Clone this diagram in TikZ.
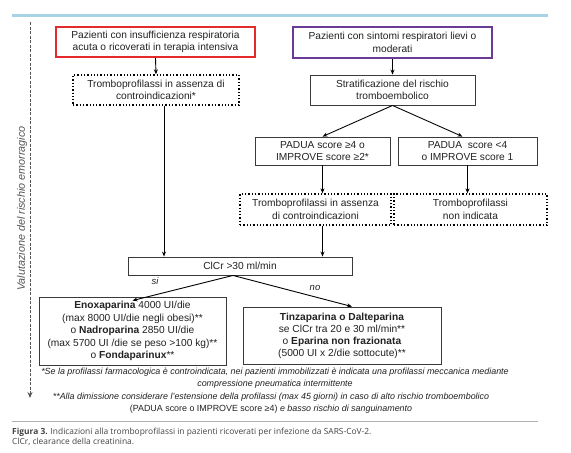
\documentclass[tikz,border=0pt]{standalone}
\usepackage{fontspec}
\setmainfont{Liberation Sans}
\newfontfamily\capfont{Open Sans}
\usetikzlibrary{arrows.meta,calc}
\definecolor{redb}{HTML}{E52A2E}
\definecolor{purb}{HTML}{6B3A96}
\definecolor{boxg}{HTML}{3A3A3A}
\definecolor{topblue}{HTML}{A7D3E6}
\definecolor{txt}{HTML}{222222}
\definecolor{sepg}{HTML}{B0B0B0}
\definecolor{dashg}{HTML}{555555}
\definecolor{capg}{HTML}{444444}
\begin{document}
\begin{tikzpicture}[x=1pt,y=-1pt,
  box/.style={draw=boxg,line width=0.9pt,align=center,inner sep=0pt,text=txt,font=\fontsize{10.2}{12.5}\selectfont},
  dotbox/.style={box,draw=black,line width=1.3pt,dotted},
  arr/.style={line width=0.9pt,-{Stealth[length=5pt,width=4pt]}},
  lab/.style={font=\fontsize{9.5}{11}\selectfont\itshape,text=txt,inner sep=0pt},
  foot/.style={font=\fontsize{8.9}{11.5}\selectfont\itshape,text=txt,align=center,inner sep=0pt},
]
\useasboundingbox (0,0) rectangle (571,453);
\fill[white] (0,0) rectangle (571,453);
% top rule
\coordinate (tl) at (12,15); \coordinate (tr) at (548,15);
\draw[topblue,line width=3pt] (tl) -- (tr);
% bleeding risk arrow
\coordinate (vt) at (30,22); \coordinate (vb) at (30,398);
\draw[dashg,line width=1pt,dash pattern=on 3pt off 1.5pt,-{Stealth[length=6pt,width=5pt]}] (vt) -- (vb);
\node[rotate=90,font=\fontsize{10.8}{12}\selectfont\itshape,text=dashg,inner sep=0pt] (val) at (22,208.5) {Valutazione del rischio emorragico};
% boxes
\node[box,draw=redb,line width=1.8pt,minimum width=199,minimum height=30] (red) at (155.5,42) {Pazienti con insufficienza respiratoria\\acuta o ricoverati in terapia intensiva};
\node[dotbox,minimum width=166,minimum height=30] (dot1) at (156,90) {Tromboprofilassi in assenza di\\controindicazioni*};
\node[box,draw=purb,line width=1.8pt,minimum width=199,minimum height=31] (pur) at (392.5,42.5) {Pazienti con sintomi respiratori lievi o\\moderati};
\node[box,minimum width=165,minimum height=30] (strat) at (392.5,90) {Stratificazione del rischio\\tromboembolico};
\node[box,minimum width=135,minimum height=28] (padL) at (322.5,151) {PADUA score ≥4 o\\IMPROVE score ≥2*};
\node[box,minimum width=139,minimum height=28] (padR) at (467.5,151) {PADUA\ \ score <4\\o IMPROVE score 1};
\node[dotbox,minimum width=151,minimum height=31] (dot2) at (315.5,209.5) {Tromboprofilassi in assenza\\di controindicazioni};
\node[dotbox,minimum width=153,minimum height=31] (dot3) at (470.5,209.5) {Tromboprofilassi\\non indicata};
\node[box,minimum width=224,minimum height=18] (clcr) at (240,266) {ClCr >30 ml/min};
\node[box,minimum width=187,minimum height=68] (drugL) at (132.5,331) {\textbf{Enoxaparina} 4000 UI/die\\(max 8000 UI/die negli obesi)**\\o \textbf{Nadroparina} 2850 UI/die\\(max 5700 UI /die se peso >100 kg)**\\o \textbf{Fondaparinux}**};
\node[box,font=\fontsize{10.2}{12}\selectfont,minimum width=198,minimum height=57] (drugR) at (342,335.5) {\textbf{Tinzaparina o Dalteparina}\\se ClCr tra 20 e 30 ml/min**\\o \textbf{Eparina non frazionata}\\(5000 UI x 2/die sottocute)**};
% connectors
\draw[arr] (red.south) -- (dot1.north);
\draw[arr] ([xshift=8pt]dot1.south) -- ([xshift=8pt]dot1.south |- clcr.north);
\draw[arr] (pur.south) -- (strat.north);
\draw[arr] (strat.south) -- (padL.north);
\draw[arr] (strat.south) -- ([xshift=-5pt]padR.north);
\draw[arr] (padL.south) -- (padL.south |- dot2.north);
\draw[arr] (padR.south) -- (padR.south |- dot3.north);
\draw[arr] (padL.south |- dot2.south) -- (padL.south |- clcr.north);
\draw[arr] ([xshift=-7pt]clcr.south) -- ([yshift=-4pt]drugL.north);
\draw[arr] ([xshift=-7pt]clcr.south) -- ([xshift=10pt]drugR.north);
\node[lab] (si) at (155,281) {si};
\node[lab] (no) at (315,288) {no};
% footnotes
\node[foot] (f1) at (275,378) {*Se la profilassi farmacologica è controindicata, nei pazienti immobilizzati è indicata una profilassi meccanica mediante\\compressione pneumatica intermittente};
\node[foot] (f2) at (271,403) {**Alla dimissione considerare l'estensione della profilassi (max 45 giorni) in caso di alto rischio tromboembolico\\{\upshape (PADUA score o IMPROVE score ≥4)} e basso rischio di sanguinamento};
% caption
\coordinate (sl) at (12,421); \coordinate (sr) at (538,421);
\draw[sepg,line width=0.8pt] (sl) -- (sr);
\node[anchor=west,font=\capfont\fontsize{8.4}{10.5}\selectfont,text=capg,align=left,inner sep=0pt] (cap) at (12,437) {\textbf{Figura 3.} Indicazioni alla tromboprofilassi in pazienti ricoverati per infezione da SARS-CoV-2.\\ClCr, clearance della creatinina.};
\end{tikzpicture}
\end{document}
